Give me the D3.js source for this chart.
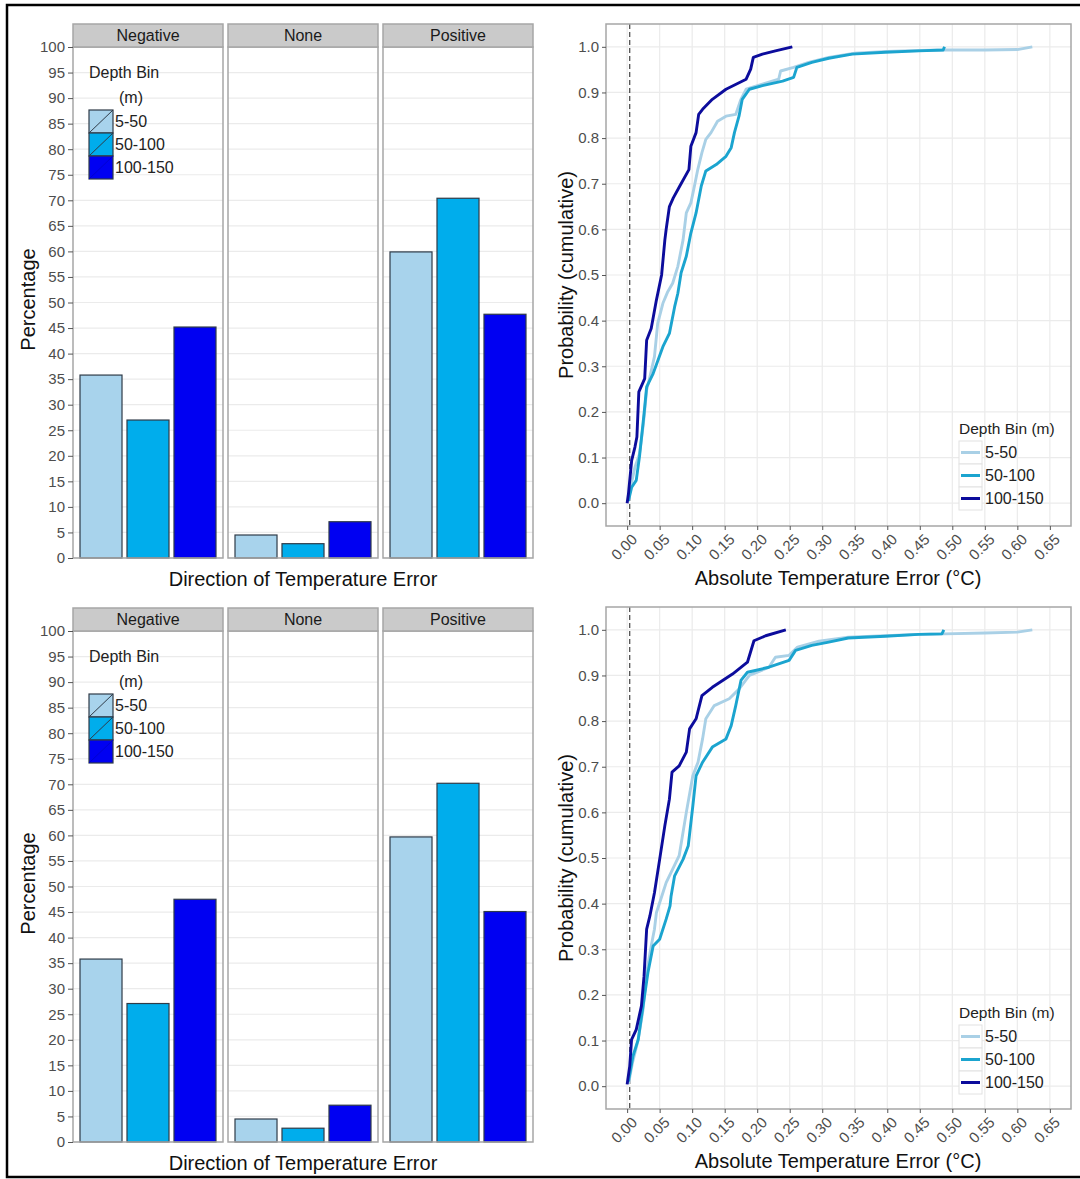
<!DOCTYPE html>
<html><head><meta charset="utf-8">
<script src="https://cdn.jsdelivr.net/npm/d3@7"></script>
<style>
html,body{margin:0;padding:0;background:#fff;}
svg{display:block;font-family:"Liberation Sans",Arial,sans-serif;}
</style></head>
<body>
<svg id="c" width="1080" height="1179"></svg>
<script>
// ---------- DATA ----------
const directions = ["Negative", "None", "Positive"];
const depthBins = ["5-50", "50-100", "100-150"];
const barTicks = [0,5,10,15,20,25,30,35,40,45,50,55,60,65,70,75,80,85,90,95,100];
const probTicks = [0.0,0.1,0.2,0.3,0.4,0.5,0.6,0.7,0.8,0.9,1.0];
const errTicks = [0.00,0.05,0.10,0.15,0.20,0.25,0.30,0.35,0.40,0.45,0.50,0.55,0.60,0.65];

// top bar chart: percentage per direction (Negative, None, Positive)
const topPct_5_50    = [35.8, 4.5, 59.9];
const topPct_50_100  = [27.0, 2.8, 70.4];
const topPct_100_150 = [45.2, 7.1, 47.7];
// bottom bar chart
const botPct_5_50    = [35.8, 4.5, 59.7];
const botPct_50_100  = [27.1, 2.7, 70.2];
const botPct_100_150 = [47.5, 7.2, 45.1];

// ECDF curves [absolute error, cumulative probability]
const topEcdf_5_50 = [[0.002,0.005],[0.006,0.04],[0.012,0.079],[0.019,0.108],[0.025,0.174],[0.030,0.248],[0.035,0.277],[0.042,0.321],[0.047,0.394],[0.055,0.438],[0.062,0.462],[0.070,0.482],[0.078,0.519],[0.086,0.577],[0.091,0.636],[0.098,0.658],[0.1035,0.695],[0.1086,0.731],[0.115,0.768],[0.121,0.797],[0.129,0.812],[0.139,0.837],[0.152,0.848],[0.167,0.852],[0.175,0.885],[0.183,0.907],[0.208,0.918],[0.233,0.929],[0.236,0.947],[0.256,0.955],[0.279,0.966],[0.31,0.977],[0.35,0.986],[0.40,0.99],[0.45,0.992],[0.488,0.993],[0.55,0.993],[0.600,0.994],[0.623,1.0]];
const topEcdf_50_100 = [[0.002,0.005],[0.007,0.035],[0.014,0.05],[0.019,0.102],[0.026,0.196],[0.030,0.255],[0.040,0.284],[0.055,0.343],[0.065,0.372],[0.073,0.430],[0.078,0.46],[0.083,0.505],[0.091,0.541],[0.098,0.592],[0.106,0.636],[0.114,0.695],[0.121,0.728],[0.137,0.742],[0.152,0.760],[0.160,0.779],[0.165,0.812],[0.172,0.848],[0.177,0.885],[0.188,0.907],[0.208,0.915],[0.239,0.925],[0.256,0.933],[0.261,0.955],[0.284,0.966],[0.310,0.975],[0.346,0.984],[0.397,0.988],[0.448,0.991],[0.486,0.993],[0.488,1.0]];
const topEcdf_100_150 = [[0.0,0.0],[0.002,0.02],[0.004,0.05],[0.007,0.094],[0.012,0.123],[0.015,0.145],[0.018,0.244],[0.027,0.273],[0.030,0.357],[0.037,0.383],[0.045,0.445],[0.053,0.50],[0.058,0.577],[0.060,0.60],[0.065,0.65],[0.071,0.669],[0.081,0.695],[0.095,0.731],[0.098,0.782],[0.106,0.812],[0.110,0.852],[0.116,0.863],[0.131,0.885],[0.152,0.907],[0.183,0.929],[0.190,0.951],[0.194,0.977],[0.208,0.984],[0.228,0.991],[0.254,1.0]];
const botEcdf_5_50 = [[0.002,0.005],[0.008,0.05],[0.017,0.102],[0.0245,0.168],[0.030,0.249],[0.037,0.307],[0.042,0.344],[0.045,0.380],[0.055,0.424],[0.060,0.446],[0.065,0.461],[0.080,0.505],[0.091,0.600],[0.101,0.680],[0.109,0.710],[0.116,0.761],[0.121,0.805],[0.134,0.834],[0.157,0.849],[0.172,0.870],[0.188,0.900],[0.218,0.918],[0.228,0.940],[0.249,0.944],[0.262,0.962],[0.295,0.975],[0.34,0.984],[0.397,0.987],[0.448,0.990],[0.488,0.991],[0.55,0.993],[0.600,0.995],[0.623,1.0]];
const botEcdf_50_100 = [[0.002,0.01],[0.009,0.066],[0.017,0.102],[0.0245,0.176],[0.032,0.249],[0.040,0.307],[0.050,0.322],[0.060,0.366],[0.066,0.395],[0.0676,0.417],[0.073,0.461],[0.086,0.497],[0.094,0.527],[0.101,0.614],[0.106,0.680],[0.116,0.710],[0.131,0.743],[0.152,0.761],[0.160,0.790],[0.167,0.834],[0.175,0.889],[0.185,0.907],[0.218,0.918],[0.249,0.933],[0.259,0.955],[0.284,0.966],[0.310,0.973],[0.340,0.982],[0.397,0.986],[0.448,0.990],[0.484,0.991],[0.487,1.0]];
const botEcdf_100_150 = [[0.0,0.004],[0.004,0.044],[0.0068,0.102],[0.014,0.124],[0.022,0.176],[0.026,0.241],[0.030,0.344],[0.035,0.373],[0.042,0.424],[0.050,0.497],[0.058,0.571],[0.065,0.629],[0.069,0.688],[0.080,0.702],[0.091,0.732],[0.096,0.783],[0.106,0.805],[0.115,0.856],[0.131,0.874],[0.162,0.903],[0.185,0.929],[0.195,0.976],[0.213,0.987],[0.244,1.0]];
const refLine = 0.004;

// ---------- STYLE ----------
const barFill = {"5-50":"#a8d3ec","50-100":"#00adec","100-150":"#0000f2"};
const lineCol = {"5-50":"#a9d0e6","50-100":"#1ba4cf","100-150":"#0c0c9c"};
const tickCol = "#4d4d4d", gridCol = "#ebebeb", borderCol = "#a6a6a6";
const titleSize = 20, tickSize = 15, legSize = 16;

const svg = d3.select("#c");
svg.append("rect").attr("x",7).attr("y",5).attr("width",1085).attr("height",1172)
  .attr("fill","none").attr("stroke","#000").attr("stroke-width",2.5);

function barChart(top, vals, legendY) {
  const stripH = 23, pTop = top + stripH, pBot = pTop + 511;
  const pw = 150;
  const pxs = d3.scalePoint().domain(directions).range([73, 383]);
  const y = d3.scaleLinear().domain([0,100]).range([pBot, pTop]);
  const xb = d3.scaleBand().domain(depthBins).range([0,pw]).paddingInner(0.106).paddingOuter(0.149);
  const g = svg.append("g");
  directions.forEach((dir, di) => {
    const x0 = pxs(dir);
    const pg = g.append("g").attr("transform",`translate(${x0},0)`);
    pg.append("rect").attr("x",0).attr("y",pTop).attr("width",pw).attr("height",pBot-pTop).attr("fill","#fff");
    pg.selectAll("line.gr").data(barTicks).join("line")
      .attr("x1",0).attr("x2",pw).attr("y1",d=>y(d)).attr("y2",d=>y(d))
      .attr("stroke",gridCol).attr("stroke-width",1.2);
    depthBins.forEach((b, bi) => {
      const v = vals[bi][di];
      pg.append("rect").attr("x",xb(b)).attr("width",xb.bandwidth())
        .attr("y",y(v)).attr("height",y(0)-y(v))
        .attr("fill",barFill[b]).attr("stroke","#2f3b48").attr("stroke-width",1.2);
    });
    pg.append("rect").attr("x",0).attr("y",pTop).attr("width",pw).attr("height",pBot-pTop)
      .attr("fill","none").attr("stroke",borderCol).attr("stroke-width",1.5);
    pg.append("rect").attr("x",0).attr("y",top).attr("width",pw).attr("height",stripH)
      .attr("fill","#cacaca").attr("stroke",borderCol).attr("stroke-width",1.5);
    pg.append("text").attr("x",pw/2).attr("y",top+stripH/2).attr("dy","0.36em")
      .attr("text-anchor","middle").attr("font-size",16).attr("fill","#1a1a1a").text(dir);
  });
  const ax = g.append("g").attr("transform","translate(73,0)")
    .call(d3.axisLeft(y).tickValues(barTicks).tickSize(5).tickPadding(3).tickFormat(d3.format("d")));
  ax.select(".domain").remove();
  ax.selectAll("line").attr("stroke","#555");
  ax.selectAll("text").attr("font-size",tickSize).attr("fill",tickCol).attr("font-family","Liberation Sans, Arial");
  g.append("text").attr("transform",`translate(35,${(pTop+pBot)/2 - 3}) rotate(-90)`)
    .attr("text-anchor","middle").attr("font-size",titleSize).attr("fill","#111").text("Percentage");
  g.append("text").attr("x",303).attr("y",pBot+28).attr("text-anchor","middle")
    .attr("font-size",titleSize).attr("fill","#111").text("Direction of Temperature Error");
  const lg = g.append("g").attr("transform",`translate(89,${legendY})`);
  lg.append("text").attr("x",0).attr("y",0).attr("dy","0.36em").attr("font-size",legSize).attr("fill","#222").text("Depth Bin");
  lg.append("text").attr("x",30).attr("y",25).attr("dy","0.36em").attr("font-size",legSize).attr("fill","#222").text("(m)");
  depthBins.forEach((b, i) => {
    const ky = 38 + i*23;
    lg.append("rect").attr("x",0).attr("y",ky).attr("width",24).attr("height",23)
      .attr("fill",barFill[b]).attr("stroke","#2f3b48").attr("stroke-width",1.2);
    lg.append("line").attr("x1",0).attr("y1",ky+23).attr("x2",24).attr("y2",ky)
      .attr("stroke", i<2 ? "#2f3b48" : "#0000d0").attr("stroke-width",1);
    lg.append("text").attr("x",26).attr("y",ky+11.5).attr("dy","0.36em").attr("font-size",legSize).attr("fill","#222").text(b);
  });
}

function ecdfChart(top, curves, legTop) {
  const L = 606, R = 1071, T = top, B = top + 502;
  const x = d3.scaleLinear().domain([-0.0325, 0.6825]).range([L, R]);
  const y = d3.scaleLinear().domain([-0.05, 1.05]).range([B, T]);
  const g = svg.append("g");
  g.append("rect").attr("x",L).attr("y",T).attr("width",R-L).attr("height",B-T).attr("fill","#fff");
  g.selectAll("line.vx").data(errTicks).join("line")
    .attr("x1",d=>x(d)).attr("x2",d=>x(d)).attr("y1",T).attr("y2",B).attr("stroke",gridCol).attr("stroke-width",1.2);
  g.selectAll("line.hy").data(probTicks).join("line")
    .attr("y1",d=>y(d)).attr("y2",d=>y(d)).attr("x1",L).attr("x2",R).attr("stroke",gridCol).attr("stroke-width",1.2);
  g.append("line").attr("x1",x(refLine)).attr("x2",x(refLine)).attr("y1",T).attr("y2",B)
    .attr("stroke","#333").attr("stroke-width",1.1).attr("stroke-dasharray","5,3");
  const line = d3.line().x(d=>x(d[0])).y(d=>y(d[1]));
  depthBins.forEach((b, i) => {
    g.append("path").datum(curves[i]).attr("d",line).attr("fill","none")
      .attr("stroke",lineCol[b]).attr("stroke-width",2.9).attr("stroke-linejoin","round");
  });
  g.append("rect").attr("x",L).attr("y",T).attr("width",R-L).attr("height",B-T)
    .attr("fill","none").attr("stroke",borderCol).attr("stroke-width",1.5);
  const ay = g.append("g").attr("transform",`translate(${L},0)`)
    .call(d3.axisLeft(y).tickValues(probTicks).tickSize(4).tickPadding(3).tickFormat(d3.format(".1f")));
  ay.select(".domain").remove();
  ay.selectAll("line").attr("stroke","#555");
  ay.selectAll("text").attr("font-size",tickSize).attr("fill",tickCol);
  const axx = g.append("g").attr("transform",`translate(0,${B})`)
    .call(d3.axisBottom(x).tickValues(errTicks).tickSize(4).tickFormat(d3.format(".2f")));
  axx.select(".domain").remove();
  axx.selectAll("line").attr("stroke","#555");
  axx.selectAll("text").attr("font-size",tickSize).attr("fill",tickCol)
    .attr("text-anchor","end").attr("y",null)
    .attr("transform","translate(3,7) rotate(-45)").attr("dy","0.7em");
  g.append("text").attr("transform",`translate(573,${(T+B)/2}) rotate(-90)`)
    .attr("text-anchor","middle").attr("font-size",titleSize).attr("fill","#111").text("Probability (cumulative)");
  g.append("text").attr("x",838).attr("y",B+59).attr("text-anchor","middle")
    .attr("font-size",titleSize).attr("fill","#111").text("Absolute Temperature Error (°C)");
  const lg = g.append("g").attr("transform",`translate(959,${legTop})`);
  lg.append("text").attr("x",0).attr("y",-13).attr("dy","0.36em").attr("font-size",15.5).attr("fill","#222").text("Depth Bin (m)");
  depthBins.forEach((b, i) => {
    const ky = i*23;
    lg.append("rect").attr("x",0).attr("y",ky).attr("width",23).attr("height",23)
      .attr("fill","#fff").attr("stroke","#e2e2e2").attr("stroke-width",1);
    lg.append("line").attr("x1",2).attr("x2",21).attr("y1",ky+11.5).attr("y2",ky+11.5)
      .attr("stroke",lineCol[b]).attr("stroke-width",3);
    lg.append("text").attr("x",26).attr("y",ky+11.5).attr("dy","0.36em").attr("font-size",legSize).attr("fill","#222").text(b);
  });
}

barChart(24, [topPct_5_50, topPct_50_100, topPct_100_150], 72);
barChart(608, [botPct_5_50, botPct_50_100, botPct_100_150], 656);
ecdfChart(24, [topEcdf_5_50, topEcdf_50_100, topEcdf_100_150], 441);
ecdfChart(607, [botEcdf_5_50, botEcdf_50_100, botEcdf_100_150], 1025);
</script>
</body></html>
